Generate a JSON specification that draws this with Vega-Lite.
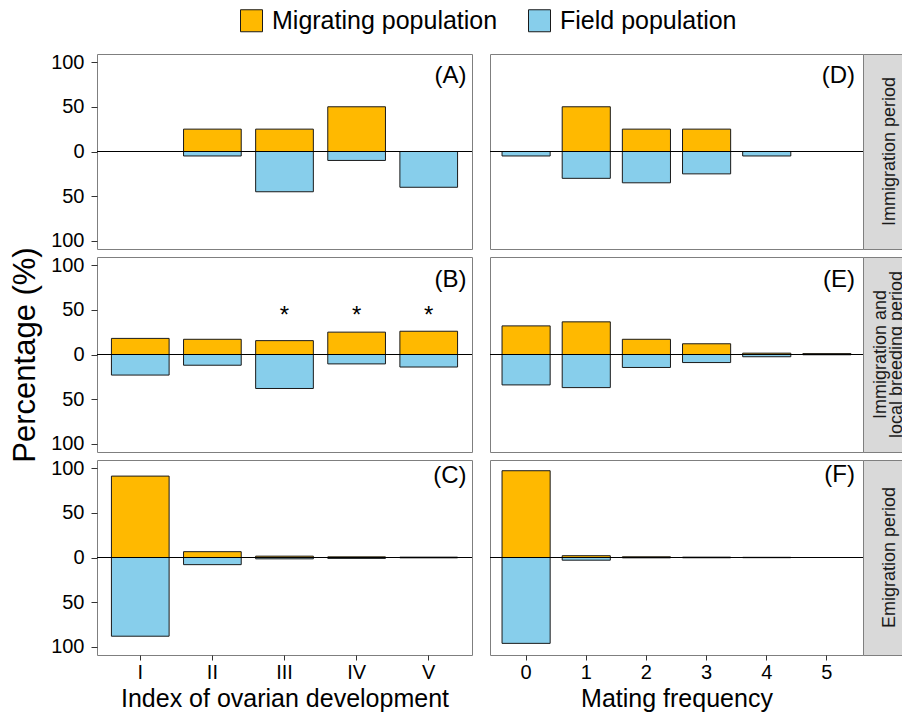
{
  "$schema": "https://vega.github.io/schema/vega-lite/v6.json",
  "padding": {"left": 8, "top": 8, "right": 0, "bottom": 4},
  "autosize": {"type": "pad"},
  "config": {
    "font": "Liberation Sans",
    "view": {"stroke": "#7f7f7f", "strokeWidth": 1},
    "axis": {"grid": false, "domain": false, "tickColor": "#333333", "labelColor": "#000000", "titleColor": "#000000", "titleFontWeight": "normal"},
    "legend": {"labelLimit": 0}
  },
  "datasets": {
    "ovary": [
      {"period": "Immigration period", "stage": "II", "population": "Migrating population", "pct": 25},
      {"period": "Immigration period", "stage": "II", "population": "Field population", "pct": -5},
      {"period": "Immigration period", "stage": "III", "population": "Migrating population", "pct": 25},
      {"period": "Immigration period", "stage": "III", "population": "Field population", "pct": -45},
      {"period": "Immigration period", "stage": "IV", "population": "Migrating population", "pct": 50},
      {"period": "Immigration period", "stage": "IV", "population": "Field population", "pct": -10},
      {"period": "Immigration period", "stage": "V", "population": "Field population", "pct": -40},
      {"period": "Immigration and local breeding period", "stage": "I", "population": "Migrating population", "pct": 18},
      {"period": "Immigration and local breeding period", "stage": "I", "population": "Field population", "pct": -23},
      {"period": "Immigration and local breeding period", "stage": "II", "population": "Migrating population", "pct": 17},
      {"period": "Immigration and local breeding period", "stage": "II", "population": "Field population", "pct": -12},
      {"period": "Immigration and local breeding period", "stage": "III", "population": "Migrating population", "pct": 15.5},
      {"period": "Immigration and local breeding period", "stage": "III", "population": "Field population", "pct": -38},
      {"period": "Immigration and local breeding period", "stage": "IV", "population": "Migrating population", "pct": 25},
      {"period": "Immigration and local breeding period", "stage": "IV", "population": "Field population", "pct": -10.5},
      {"period": "Immigration and local breeding period", "stage": "V", "population": "Migrating population", "pct": 26},
      {"period": "Immigration and local breeding period", "stage": "V", "population": "Field population", "pct": -14},
      {"period": "Emigration period", "stage": "I", "population": "Migrating population", "pct": 91},
      {"period": "Emigration period", "stage": "I", "population": "Field population", "pct": -88},
      {"period": "Emigration period", "stage": "II", "population": "Migrating population", "pct": 6.5},
      {"period": "Emigration period", "stage": "II", "population": "Field population", "pct": -8},
      {"period": "Emigration period", "stage": "III", "population": "Migrating population", "pct": 1.5},
      {"period": "Emigration period", "stage": "III", "population": "Field population", "pct": -1.5},
      {"period": "Emigration period", "stage": "IV", "population": "Migrating population", "pct": 0.7},
      {"period": "Emigration period", "stage": "IV", "population": "Field population", "pct": -1},
      {"period": "Emigration period", "stage": "V", "population": "Migrating population", "pct": 0.4},
      {"period": "Emigration period", "stage": "V", "population": "Field population", "pct": -0.4}
    ],
    "mating": [
      {"period": "Immigration period", "freq": "0", "population": "Field population", "pct": -5},
      {"period": "Immigration period", "freq": "1", "population": "Migrating population", "pct": 50},
      {"period": "Immigration period", "freq": "1", "population": "Field population", "pct": -30},
      {"period": "Immigration period", "freq": "2", "population": "Migrating population", "pct": 25},
      {"period": "Immigration period", "freq": "2", "population": "Field population", "pct": -35},
      {"period": "Immigration period", "freq": "3", "population": "Migrating population", "pct": 25},
      {"period": "Immigration period", "freq": "3", "population": "Field population", "pct": -25},
      {"period": "Immigration period", "freq": "4", "population": "Field population", "pct": -5},
      {"period": "Immigration and local breeding period", "freq": "0", "population": "Migrating population", "pct": 32},
      {"period": "Immigration and local breeding period", "freq": "0", "population": "Field population", "pct": -34},
      {"period": "Immigration and local breeding period", "freq": "1", "population": "Migrating population", "pct": 36.5},
      {"period": "Immigration and local breeding period", "freq": "1", "population": "Field population", "pct": -37},
      {"period": "Immigration and local breeding period", "freq": "2", "population": "Migrating population", "pct": 17},
      {"period": "Immigration and local breeding period", "freq": "2", "population": "Field population", "pct": -14.5},
      {"period": "Immigration and local breeding period", "freq": "3", "population": "Migrating population", "pct": 12},
      {"period": "Immigration and local breeding period", "freq": "3", "population": "Field population", "pct": -9},
      {"period": "Immigration and local breeding period", "freq": "4", "population": "Migrating population", "pct": 1.5},
      {"period": "Immigration and local breeding period", "freq": "4", "population": "Field population", "pct": -2.5},
      {"period": "Immigration and local breeding period", "freq": "5", "population": "Migrating population", "pct": 1},
      {"period": "Immigration and local breeding period", "freq": "5", "population": "Field population", "pct": -0.3},
      {"period": "Emigration period", "freq": "0", "population": "Migrating population", "pct": 97},
      {"period": "Emigration period", "freq": "0", "population": "Field population", "pct": -96},
      {"period": "Emigration period", "freq": "1", "population": "Migrating population", "pct": 2},
      {"period": "Emigration period", "freq": "1", "population": "Field population", "pct": -3},
      {"period": "Emigration period", "freq": "2", "population": "Migrating population", "pct": 0.8},
      {"period": "Emigration period", "freq": "2", "population": "Field population", "pct": -0.4},
      {"period": "Emigration period", "freq": "3", "population": "Migrating population", "pct": 0.4},
      {"period": "Emigration period", "freq": "3", "population": "Field population", "pct": -0.3},
      {"period": "Emigration period", "freq": "4", "population": "Migrating population", "pct": 0.2},
      {"period": "Emigration period", "freq": "4", "population": "Field population", "pct": -0.2}
    ],
    "labels": [
      {"panel": "A", "label": "(A)"},
      {"panel": "B", "label": "(B)"},
      {"panel": "C", "label": "(C)"},
      {"panel": "D", "label": "(D)"},
      {"panel": "E", "label": "(E)"},
      {"panel": "F", "label": "(F)"}
    ],
    "signif": [
      {"period": "Immigration and local breeding period", "stage": "III", "mark": "*"},
      {"period": "Immigration and local breeding period", "stage": "IV", "mark": "*"},
      {"period": "Immigration and local breeding period", "stage": "V", "mark": "*"}
    ],
    "strips": [
      {"period": "Immigration period", "strip": ["Immigration period"]},
      {"period": "Immigration and local breeding period", "strip": ["Immigration and", "local breeding period"]},
      {"period": "Emigration period", "strip": ["Emigration period"]}
    ]
  },
  "resolve": {"scale": {"x": "independent", "y": "independent", "color": "shared"}, "legend": {"color": "shared"}},
  "bounds": "flush",
  "align": "each",
  "columns": 4,
  "spacing": {"row": 8, "column": 0},
  "concat": [
    {
      "width": 375, "height": 195,
      "layer": [
        {"data": {"name": "ovary"}, "transform": [{"filter": {"field": "period", "equal": "Immigration period"}}],
         "mark": {"type": "bar", "stroke": "#1a1a1a", "strokeWidth": 1},
         "encoding": {
           "x": {"field": "stage", "type": "nominal", "scale": {"domain": ["I", "II", "III", "IV", "V"], "paddingInner": 0.2, "paddingOuter": 0.2}, "axis": null},
           "y": {"field": "pct", "type": "quantitative", "scale": {"domain": [-109, 109], "nice": false}, "axis": {"values": [-100, -50, 0, 50, 100], "labelExpr": "format(abs(datum.value), 'd')", "title": null, "tickSize": 6, "labelPadding": 7, "labelFontSize": 20, "minExtent": 46, "maxExtent": 46}},
           "color": {"field": "population", "type": "nominal", "scale": {"domain": ["Migrating population", "Field population"], "range": ["#FFB900", "#87CEEB"]}, "legend": {"title": null, "orient": "none", "legendX": 142, "legendY": -46, "direction": "horizontal", "symbolType": "square", "symbolSize": 484, "symbolStrokeColor": "#1a1a1a", "symbolStrokeWidth": 1, "labelFontSize": 25, "labelOffset": 8, "columnPadding": 28, "labelColor": "#000000"}}
         }},
        {"data": {"values": [{}]}, "mark": {"type": "rule", "color": "#000000", "strokeWidth": 1}, "encoding": {"y": {"datum": 0}}},
        {"data": {"name": "labels"}, "transform": [{"filter": {"field": "panel", "equal": "A"}}],
         "mark": {"type": "text", "fontSize": 24, "align": "right", "baseline": "middle", "dx": 9, "color": "#000000"},
         "encoding": {"x": {"datum": "V", "bandPosition": 1}, "y": {"datum": 84}, "text": {"field": "label"}}}
      ]
    },
    {"width": 18, "height": 195, "view": {"stroke": null, "fill": null}, "data": {"values": []}, "mark": "point"},
    {
      "width": 373, "height": 195,
      "layer": [
        {"data": {"name": "mating"}, "transform": [{"filter": {"field": "period", "equal": "Immigration period"}}],
         "mark": {"type": "bar", "stroke": "#1a1a1a", "strokeWidth": 1},
         "encoding": {
           "x": {"field": "freq", "type": "nominal", "scale": {"domain": ["0", "1", "2", "3", "4", "5"], "paddingInner": 0.2, "paddingOuter": 0.2}, "axis": null},
           "y": {"field": "pct", "type": "quantitative", "scale": {"domain": [-109, 109], "nice": false}, "axis": null},
           "color": {"field": "population", "type": "nominal", "scale": {"domain": ["Migrating population", "Field population"], "range": ["#FFB900", "#87CEEB"]}, "legend": {"title": null, "orient": "none", "legendX": 142, "legendY": -46, "direction": "horizontal", "symbolType": "square", "symbolSize": 484, "symbolStrokeColor": "#1a1a1a", "symbolStrokeWidth": 1, "labelFontSize": 25, "labelOffset": 8, "columnPadding": 28, "labelColor": "#000000"}}
         }},
        {"data": {"values": [{}]}, "mark": {"type": "rule", "color": "#000000", "strokeWidth": 1}, "encoding": {"y": {"datum": 0}}},
        {"data": {"name": "labels"}, "transform": [{"filter": {"field": "panel", "equal": "D"}}],
         "mark": {"type": "text", "fontSize": 24, "align": "right", "baseline": "middle", "dx": 4, "color": "#000000"},
         "encoding": {"x": {"datum": "5", "bandPosition": 1}, "y": {"datum": 84}, "text": {"field": "label"}}}
      ]
    },
    {
      "width": 40, "height": 195,
      "view": {"fill": "#D9D9D9", "stroke": "#7f7f7f"},
      "data": {"name": "strips"},
      "transform": [{"filter": {"field": "period", "equal": "Immigration period"}}],
      "mark": {"type": "text", "angle": 270, "fontSize": 18, "lineHeight": 18, "align": "center", "baseline": "middle", "dy": 7, "clip": true, "color": "#1a1a1a"},
      "encoding": {"text": {"field": "strip"}}
    },
    {
      "width": 375, "height": 195,
      "layer": [
        {"data": {"name": "ovary"}, "transform": [{"filter": {"field": "period", "equal": "Immigration and local breeding period"}}],
         "mark": {"type": "bar", "stroke": "#1a1a1a", "strokeWidth": 1},
         "encoding": {
           "x": {"field": "stage", "type": "nominal", "scale": {"domain": ["I", "II", "III", "IV", "V"], "paddingInner": 0.2, "paddingOuter": 0.2}, "axis": null},
           "y": {"field": "pct", "type": "quantitative", "scale": {"domain": [-109, 109], "nice": false}, "axis": {"values": [-100, -50, 0, 50, 100], "labelExpr": "format(abs(datum.value), 'd')", "title": "Percentage (%)", "titleFontSize": 31, "titlePadding": 10, "tickSize": 6, "labelPadding": 7, "labelFontSize": 20, "minExtent": 46, "maxExtent": 46}},
           "color": {"field": "population", "type": "nominal", "scale": {"domain": ["Migrating population", "Field population"], "range": ["#FFB900", "#87CEEB"]}, "legend": {"title": null, "orient": "none", "legendX": 142, "legendY": -46, "direction": "horizontal", "symbolType": "square", "symbolSize": 484, "symbolStrokeColor": "#1a1a1a", "symbolStrokeWidth": 1, "labelFontSize": 25, "labelOffset": 8, "columnPadding": 28, "labelColor": "#000000"}}
         }},
        {"data": {"values": [{}]}, "mark": {"type": "rule", "color": "#000000", "strokeWidth": 1}, "encoding": {"y": {"datum": 0}}},
        {"data": {"name": "signif"},
         "mark": {"type": "text", "fontSize": 24, "align": "center", "baseline": "alphabetic", "color": "#000000"},
         "encoding": {"x": {"field": "stage", "type": "nominal"}, "y": {"datum": 35}, "text": {"field": "mark"}}},
        {"data": {"name": "labels"}, "transform": [{"filter": {"field": "panel", "equal": "B"}}],
         "mark": {"type": "text", "fontSize": 24, "align": "right", "baseline": "middle", "dx": 9, "color": "#000000"},
         "encoding": {"x": {"datum": "V", "bandPosition": 1}, "y": {"datum": 83}, "text": {"field": "label"}}}
      ]
    },
    {"width": 18, "height": 195, "view": {"stroke": null, "fill": null}, "data": {"values": []}, "mark": "point"},
    {
      "width": 373, "height": 195,
      "layer": [
        {"data": {"name": "mating"}, "transform": [{"filter": {"field": "period", "equal": "Immigration and local breeding period"}}],
         "mark": {"type": "bar", "stroke": "#1a1a1a", "strokeWidth": 1},
         "encoding": {
           "x": {"field": "freq", "type": "nominal", "scale": {"domain": ["0", "1", "2", "3", "4", "5"], "paddingInner": 0.2, "paddingOuter": 0.2}, "axis": null},
           "y": {"field": "pct", "type": "quantitative", "scale": {"domain": [-109, 109], "nice": false}, "axis": null},
           "color": {"field": "population", "type": "nominal", "scale": {"domain": ["Migrating population", "Field population"], "range": ["#FFB900", "#87CEEB"]}, "legend": {"title": null, "orient": "none", "legendX": 142, "legendY": -46, "direction": "horizontal", "symbolType": "square", "symbolSize": 484, "symbolStrokeColor": "#1a1a1a", "symbolStrokeWidth": 1, "labelFontSize": 25, "labelOffset": 8, "columnPadding": 28, "labelColor": "#000000"}}
         }},
        {"data": {"values": [{}]}, "mark": {"type": "rule", "color": "#000000", "strokeWidth": 1}, "encoding": {"y": {"datum": 0}}},
        {"data": {"name": "labels"}, "transform": [{"filter": {"field": "panel", "equal": "E"}}],
         "mark": {"type": "text", "fontSize": 24, "align": "right", "baseline": "middle", "dx": 4, "color": "#000000"},
         "encoding": {"x": {"datum": "5", "bandPosition": 1}, "y": {"datum": 83}, "text": {"field": "label"}}}
      ]
    },
    {
      "width": 40, "height": 195,
      "view": {"fill": "#D9D9D9", "stroke": "#7f7f7f"},
      "data": {"name": "strips"},
      "transform": [{"filter": {"field": "period", "equal": "Immigration and local breeding period"}}],
      "mark": {"type": "text", "angle": 270, "fontSize": 18, "lineHeight": 16, "align": "center", "baseline": "middle", "dy": -2, "clip": true, "color": "#1a1a1a"},
      "encoding": {"text": {"field": "strip"}}
    },
    {
      "width": 375, "height": 195,
      "layer": [
        {"data": {"name": "ovary"}, "transform": [{"filter": {"field": "period", "equal": "Emigration period"}}],
         "mark": {"type": "bar", "stroke": "#1a1a1a", "strokeWidth": 1},
         "encoding": {
           "x": {"field": "stage", "type": "nominal", "scale": {"domain": ["I", "II", "III", "IV", "V"], "paddingInner": 0.2, "paddingOuter": 0.2}, "axis": {"title": "Index of ovarian development", "labelAngle": 0, "labelFontSize": 20, "tickSize": 5, "labelPadding": 2, "titleFontSize": 25, "titlePadding": 4}},
           "y": {"field": "pct", "type": "quantitative", "scale": {"domain": [-109, 109], "nice": false}, "axis": {"values": [-100, -50, 0, 50, 100], "labelExpr": "format(abs(datum.value), 'd')", "title": null, "tickSize": 6, "labelPadding": 7, "labelFontSize": 20, "minExtent": 46, "maxExtent": 46}},
           "color": {"field": "population", "type": "nominal", "scale": {"domain": ["Migrating population", "Field population"], "range": ["#FFB900", "#87CEEB"]}, "legend": {"title": null, "orient": "none", "legendX": 142, "legendY": -46, "direction": "horizontal", "symbolType": "square", "symbolSize": 484, "symbolStrokeColor": "#1a1a1a", "symbolStrokeWidth": 1, "labelFontSize": 25, "labelOffset": 8, "columnPadding": 28, "labelColor": "#000000"}}
         }},
        {"data": {"values": [{}]}, "mark": {"type": "rule", "color": "#000000", "strokeWidth": 1}, "encoding": {"y": {"datum": 0}}},
        {"data": {"name": "labels"}, "transform": [{"filter": {"field": "panel", "equal": "C"}}],
         "mark": {"type": "text", "fontSize": 24, "align": "right", "baseline": "middle", "dx": 9, "color": "#000000"},
         "encoding": {"x": {"datum": "V", "bandPosition": 1}, "y": {"datum": 91}, "text": {"field": "label"}}}
      ]
    },
    {"width": 18, "height": 195, "view": {"stroke": null, "fill": null}, "data": {"values": []}, "mark": "point"},
    {
      "width": 373, "height": 195,
      "layer": [
        {"data": {"name": "mating"}, "transform": [{"filter": {"field": "period", "equal": "Emigration period"}}],
         "mark": {"type": "bar", "stroke": "#1a1a1a", "strokeWidth": 1},
         "encoding": {
           "x": {"field": "freq", "type": "nominal", "scale": {"domain": ["0", "1", "2", "3", "4", "5"], "paddingInner": 0.2, "paddingOuter": 0.2}, "axis": {"title": "Mating frequency", "labelAngle": 0, "labelFontSize": 20, "tickSize": 5, "labelPadding": 2, "titleFontSize": 25, "titlePadding": 4}},
           "y": {"field": "pct", "type": "quantitative", "scale": {"domain": [-109, 109], "nice": false}, "axis": null},
           "color": {"field": "population", "type": "nominal", "scale": {"domain": ["Migrating population", "Field population"], "range": ["#FFB900", "#87CEEB"]}, "legend": {"title": null, "orient": "none", "legendX": 142, "legendY": -46, "direction": "horizontal", "symbolType": "square", "symbolSize": 484, "symbolStrokeColor": "#1a1a1a", "symbolStrokeWidth": 1, "labelFontSize": 25, "labelOffset": 8, "columnPadding": 28, "labelColor": "#000000"}}
         }},
        {"data": {"values": [{}]}, "mark": {"type": "rule", "color": "#000000", "strokeWidth": 1}, "encoding": {"y": {"datum": 0}}},
        {"data": {"name": "labels"}, "transform": [{"filter": {"field": "panel", "equal": "F"}}],
         "mark": {"type": "text", "fontSize": 24, "align": "right", "baseline": "middle", "dx": 4, "color": "#000000"},
         "encoding": {"x": {"datum": "5", "bandPosition": 1}, "y": {"datum": 92}, "text": {"field": "label"}}}
      ]
    },
    {
      "width": 40, "height": 195,
      "view": {"fill": "#D9D9D9", "stroke": "#7f7f7f"},
      "data": {"name": "strips"},
      "transform": [{"filter": {"field": "period", "equal": "Emigration period"}}],
      "mark": {"type": "text", "angle": 270, "fontSize": 18, "lineHeight": 18, "align": "center", "baseline": "middle", "dy": 7, "clip": true, "color": "#1a1a1a"},
      "encoding": {"text": {"field": "strip"}}
    }
  ]
}
